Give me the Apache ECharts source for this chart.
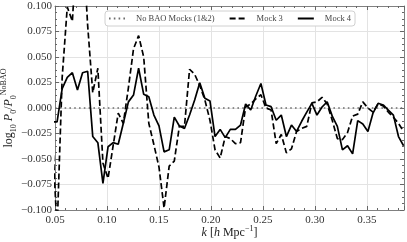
<!DOCTYPE html>
<html>
<head>
<meta charset="utf-8">
<script src="https://cdn.jsdelivr.net/npm/echarts@6/dist/echarts.min.js"></script>
<style>
html,body{margin:0;padding:0;background:#fff;}
#c{width:407px;height:242px;}
</style>
</head>
<body>
<div id="c"></div>
<script>
// wavenumber bins k [h/Mpc]
const kBins = [0.0471,0.0520,0.0569,0.0618,0.0667,0.0716,0.0765,0.0814,0.0863,0.0912,
0.0961,0.1010,0.1059,0.1108,0.1157,0.1206,0.1255,0.1304,0.1353,0.1402,
0.1451,0.1500,0.1549,0.1598,0.1647,0.1696,0.1745,0.1794,0.1843,0.1892,
0.1941,0.1990,0.2039,0.2088,0.2137,0.2186,0.2235,0.2284,0.2333,0.2382,
0.2431,0.2480,0.2529,0.2578,0.2627,0.2676,0.2725,0.2774,0.2823,0.2872,
0.2921,0.2970,0.3019,0.3068,0.3117,0.3166,0.3215,0.3264,0.3313,0.3362,
0.3411,0.3460,0.3509,0.3558,0.3607,0.3656,0.3705,0.3754,0.3803,0.3852];

// log10 P0/P0^NoBAO, Mock 3 (dashed)
const mock3 = [-0.020,-0.120,0.030,0.099,0.085,0.170,0.170,0.081,0.015,0.039,
-0.054,-0.069,-0.037,-0.005,-0.015,0.020,0.058,0.071,0.050,-0.015,
-0.036,-0.058,-0.098,-0.057,-0.052,-0.018,-0.018,0.038,0.033,0.022,
0.008,-0.012,-0.041,-0.049,-0.028,-0.030,-0.035,-0.034,0.001,0.004,
0.009,0.013,0.000,-0.002,-0.035,-0.026,-0.044,-0.040,-0.023,-0.020,
-0.018,0.005,0.006,0.0105,0.004,-0.012,-0.030,-0.031,-0.024,-0.008,
-0.006,0.006,0.000,-0.004,0.004,0.002,-0.004,-0.009,-0.015,-0.023];

// log10 P0/P0^NoBAO, Mock 4 (solid)
const mock4 = [-0.0137,-0.0137,0.019,0.030,0.0346,0.0176,0.0346,0.036,-0.028,-0.034,
-0.074,-0.038,-0.034,-0.0356,-0.015,0.006,0.0127,0.039,0.0134,0.011,
-0.0069,-0.0176,-0.043,-0.041,-0.009,-0.0176,-0.020,-0.0069,0.0078,0.0248,
0.0095,0.0069,-0.028,-0.021,-0.029,-0.021,-0.021,-0.0167,0.0039,-0.002,
0.0118,0.024,0.003,0.0013,-0.012,-0.0069,-0.028,-0.0167,-0.023,-0.013,
-0.004,0.0046,-0.0069,0.001,0.006,-0.008,-0.018,-0.041,-0.037,-0.045,
-0.0124,-0.0157,-0.023,-0.005,0.0046,0.003,-0.002,-0.007,-0.028,-0.037];

// No-BAO reference (Mocks 1&2): zero line across the k range
const noBaoK = [0.05, 0.3856];
const noBaoV = [0, 0];

const seriesNames = ['No BAO Mocks (1&2)', 'Mock 3', 'Mock 4'];
const xTicks = [0.05, 0.10, 0.15, 0.20, 0.25, 0.30, 0.35];
const yTicks = [-0.100, -0.075, -0.050, -0.025, 0.000, 0.025, 0.050, 0.075, 0.100];

const FONT = "'Liberation Serif','DejaVu Serif',serif";
const pair = (xs, ys) => xs.map((x, i) => [x, ys[i]]);
const fmtY = v => {
  const s = Math.abs(v).toFixed(3);
  return (v < -1e-9 ? '\u2212' : '') + s;
};
const isTick = (v, arr) => arr.some(t => Math.abs(t - v) < 1e-6);

const axisBase = {
  axisLine: {show: true, onZero: false, lineStyle: {color: '#808080', width: 1}},
  axisTick: {show: true, inside: true, length: 4, lineStyle: {color: '#666'}},
  minorTick: {show: true, length: 2, lineStyle: {color: '#666'}}
};

const chart = echarts.init(document.getElementById('c'), null, {renderer: 'canvas'});
chart.setOption({
  animation: false,
  backgroundColor: '#fff',
  grid: {left: 55, right: 3, top: 6, bottom: 32, containLabel: false, outerBoundsMode: 'none'},
  legend: {
    data: seriesNames,
    left: 105, top: 11,
    itemWidth: 16, itemHeight: 8, itemGap: 14,
    backgroundColor: '#fff',
    borderColor: '#d0d0d0', borderWidth: 1, borderRadius: 3,
    padding: [3, 4, 3, 3],
    itemStyle: {opacity: 0},
    textStyle: {fontFamily: FONT, fontSize: 8.5, color: '#444', padding: [0, 0, 0, 6]}
  },
  xAxis: [
    Object.assign({}, axisBase, {
      type: 'value', min: 0.05, max: 0.3856, interval: 0.05, position: 'bottom',
      minorTick: Object.assign({}, axisBase.minorTick, {splitNumber: 5}),
      splitLine: {show: true, lineStyle: {color: '#e3e3e3', width: 1}},
      axisLabel: {
        fontFamily: FONT, fontSize: 11, color: '#333', margin: 5,
        showMaxLabel: false,
        formatter: v => isTick(v, xTicks) ? v.toFixed(2) : ''
      },
      name: '{i|k}{a| [}{i|h}{a| Mpc}{u|\u22121}{a|]}',
      nameLocation: 'middle', nameGap: 15, nameMoveOverlap: false,
      nameTextStyle: {
        fontFamily: FONT, fontSize: 12, color: '#222',
        rich: {
          a: {fontFamily: FONT, fontSize: 12, color: '#222', lineHeight: 16},
          i: {fontFamily: FONT, fontSize: 12, fontStyle: 'italic', color: '#222', lineHeight: 16},
          u: {fontFamily: FONT, fontSize: 8, color: '#222', lineHeight: 9, verticalAlign: 'top'}
        }
      }
    }),
    Object.assign({}, axisBase, {
      type: 'value', min: 0.05, max: 0.3856, interval: 0.05, position: 'top',
      minorTick: Object.assign({}, axisBase.minorTick, {splitNumber: 5}),
      splitLine: {show: false}, axisLabel: {show: false}
    })
  ],
  yAxis: [
    Object.assign({}, axisBase, {
      type: 'value', min: -0.1, max: 0.1, interval: 0.025, position: 'left',
      minorTick: Object.assign({}, axisBase.minorTick, {splitNumber: 4}),
      splitLine: {show: true, lineStyle: {color: '#e3e3e3', width: 1}},
      axisLabel: {
        fontFamily: FONT, fontSize: 11, color: '#333', margin: 3,
        formatter: v => isTick(v, yTicks) ? fmtY(v) : ''
      },
      name: '{a|log}{s|10}{a| }{i|P}{s|0}{a|/}{i|P}{s|0}{u|NoBAO}',
      nameLocation: 'middle', nameGap: 37, nameRotate: 90, nameMoveOverlap: false,
      nameTextStyle: {
        fontFamily: FONT, fontSize: 12, color: '#222',
        rich: {
          a: {fontFamily: FONT, fontSize: 12, color: '#222', lineHeight: 18},
          i: {fontFamily: FONT, fontSize: 12, fontStyle: 'italic', color: '#222', lineHeight: 18},
          s: {fontFamily: FONT, fontSize: 8, color: '#222', lineHeight: 9, verticalAlign: 'bottom'},
          u: {fontFamily: FONT, fontSize: 8, color: '#222', lineHeight: 9, verticalAlign: 'top'}
        }
      }
    }),
    Object.assign({}, axisBase, {
      type: 'value', min: -0.1, max: 0.1, interval: 0.025, position: 'right',
      minorTick: Object.assign({}, axisBase.minorTick, {splitNumber: 4}),
      splitLine: {show: false}, axisLabel: {show: false}
    })
  ],
  series: [
    {
      name: seriesNames[0], type: 'line', xAxisIndex: 0, yAxisIndex: 0,
      data: pair(noBaoK, noBaoV), symbol: 'none', silent: true,
      lineStyle: {color: '#6e6e6e', width: 1.6, type: [1.6, 3.2]},
      itemStyle: {color: '#6e6e6e'}, z: 3
    },
    {
      name: seriesNames[1], type: 'line', xAxisIndex: 0, yAxisIndex: 0,
      data: pair(kBins, mock3), symbol: 'none', clip: true,
      lineStyle: {color: '#000', width: 1.7, type: [6, 3]},
      itemStyle: {color: '#000'}, z: 4
    },
    {
      name: seriesNames[2], type: 'line', xAxisIndex: 0, yAxisIndex: 0,
      data: pair(kBins, mock4), symbol: 'none', clip: true,
      lineStyle: {color: '#000', width: 1.7, type: 'solid'},
      itemStyle: {color: '#000'}, z: 5
    }
  ]
});
</script>
</body>
</html>
